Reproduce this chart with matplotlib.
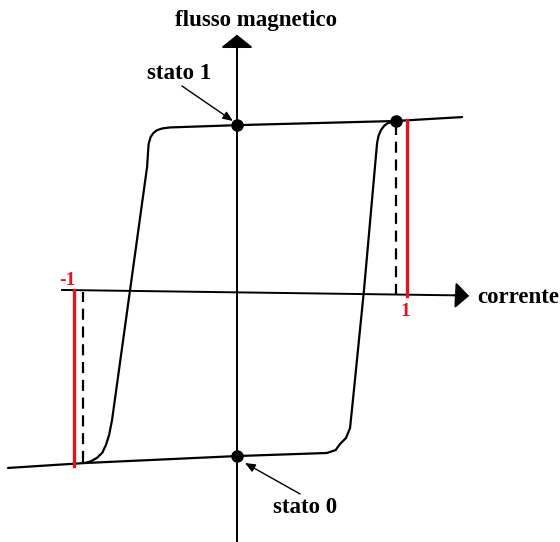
import matplotlib.pyplot as plt

# hysteresis loop, current I (x) vs magnetic flux (y), unit = the +/-1 marks
upper_I = [1.324, 0.935, 0.018, -0.394, -0.440, -0.470, -0.492, -0.508, -0.520, -0.529,
           -0.629, -0.735, -0.752, -0.771, -0.792, -0.824, -0.860, -0.894]
upper_phi = [1.029, 1.006, 0.982, 0.968, 0.962, 0.952, 0.935, 0.912, 0.870, 0.735,
             0.012, -0.753, -0.840, -0.900, -0.945, -0.976, -0.996, -1.006]

lower_I = [-1.347, -0.894, 0.0, 0.529, 0.580, 0.606, 0.641, 0.665, 0.682,
           0.747, 0.824, 0.833, 0.847, 0.866, 0.888, 0.935]
lower_phi = [-1.035, -1.006, -0.965, -0.947, -0.930, -0.894, -0.859, -0.800, -0.635,
             0.012, 0.876, 0.920, 0.953, 0.978, 0.994, 1.006]

# saturation limits (+/-1) and the dashed switching points
red_I = [-0.959, 1.0]
red_top = [0.012, 1.012]
red_bottom = [-1.024, -0.024]
dash_I = [-0.906, 0.935]
dash_top = [0.0, 1.006]
dash_bottom = [-1.0, -0.018]

dots_I = [0.0, 0.0, 0.935]
dots_phi = [0.982, -0.965, 1.006]

SERIF = ["Liberation Serif", "DejaVu Serif"]
RED = "#e3141b"

fig = plt.figure(figsize=(5.6, 5.42), dpi=100)
ax = fig.add_axes([0, 0, 1, 1])
ax.set_xlim(-237 / 170, 323 / 170)
ax.set_ylim(-250 / 170, 292 / 170)
ax.axis("off")

# axes with arrow heads
ax.plot([0, 0], [-1.47, 1.47], color="black", lw=1.4)
ax.annotate("", xy=(0, 1.53), xytext=(0, 1.40),
            arrowprops=dict(arrowstyle="-|>,head_length=0.8,head_width=1.0",
                            color="black", lw=1.4))
ax.plot([-1.029, 1.31], [0.012, -0.020], color="black", lw=1.4)
ax.annotate("", xy=(1.382, -0.024), xytext=(1.26, -0.018),
            arrowprops=dict(arrowstyle="-|>,head_length=0.85,head_width=0.8",
                            color="black", lw=1.4))

# loop
ax.plot(upper_I, upper_phi, color="black", lw=1.6, solid_capstyle="round")
ax.plot(lower_I, lower_phi, color="black", lw=1.6, solid_capstyle="round")

for x, y0, y1 in zip(dash_I, dash_bottom, dash_top):
    ax.plot([x, x], [y0, y1], color="black", lw=1.6, dashes=(5, 3))
for x, y0, y1 in zip(red_I, red_bottom, red_top):
    ax.plot([x, x], [y0, y1], color=RED, lw=2.4)

ax.plot(dots_I, dots_phi, "o", color="black", ms=8)

# labels
ax.text(0.112, 1.60, "flusso magnetico", family=SERIF, weight="bold",
        fontsize=16.5, ha="center", va="center")
ax.text(1.412, -0.03, "corrente", family=SERIF, weight="bold",
        fontsize=16.5, ha="left", va="center")
ax.text(-1.0, 0.07, "-1", family=SERIF, weight="bold", color=RED,
        fontsize=14, ha="center", va="center")
ax.text(0.99, -0.115, "1", family=SERIF, weight="bold", color=RED,
        fontsize=14, ha="center", va="center")

ax.text(-0.341, 1.288, "stato 1", family=SERIF, weight="bold",
        fontsize=16.5, ha="center", va="center")
ax.annotate("", xy=(-0.024, 1.006), xytext=(-0.324, 1.212),
            arrowprops=dict(arrowstyle="-|>,head_length=0.6,head_width=0.25",
                            color="black", lw=1.0, shrinkA=0, shrinkB=0))
ax.text(0.40, -1.265, "stato 0", family=SERIF, weight="bold",
        fontsize=16.5, ha="center", va="center")
ax.annotate("", xy=(0.047, -1.006), xytext=(0.371, -1.188),
            arrowprops=dict(arrowstyle="-|>,head_length=0.6,head_width=0.25",
                            color="black", lw=1.0, shrinkA=0, shrinkB=0))

fig.savefig("out.png", dpi=100)
